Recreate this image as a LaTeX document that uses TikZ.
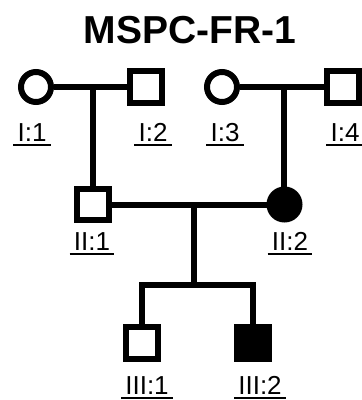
\documentclass[tikz,border=0pt]{standalone}
\usepackage{fontspec}
\setmainfont{Liberation Sans}
\begin{document}
\begin{tikzpicture}[x=1pt,y=-1pt,
  lw/.style={line width=6pt},
  male/.style={draw,rectangle,line width=6pt,minimum size=31.5pt,inner sep=0pt,fill=white},
  female/.style={draw,circle,line width=6pt,minimum size=30pt,inner sep=0pt,fill=white},
  aff/.style={fill=black},
  lab/.style={anchor=base,inner xsep=4pt,inner ysep=0pt,font=\fontsize{26}{26}\selectfont},
  ul/.style={line width=2pt},
  conn/.style={line width=6pt,line join=miter}]
\useasboundingbox (0,0) rectangle (362,400);
\node[anchor=base,font=\fontsize{39}{39}\selectfont\bfseries] (title) at (190,43) {MSPC-FR-1};
% generation I
\node[female] (i1) at (36,87) {};
\node[male] (i2) at (146,87) {};
\node[female] (i3) at (222,87) {};
\node[male] (i4) at (343,87) {};
% generation II
\node[male] (ii1) at (93,204.5) {};
\node[female,aff] (ii2) at (284.5,204.5) {};
% generation III
\node[male] (iii1) at (142,343) {};
\node[male,aff] (iii2) at (253,343) {};
% coordinates
\coordinate (m1) at (92.5,87);
\coordinate (m2) at (284,87);
\coordinate (m3) at (193.5,204.5);
\coordinate (s) at (193.5,284.5);
% connectors
\draw[conn] (i1) -- (i2);
\draw[conn] (i3) -- (i4);
\draw[conn] (m1) -- (m1 |- ii1.north);
\draw[conn] (m2) -- (m2 |- ii2.north);
\draw[conn] (ii1) -- (ii2);
\draw[conn] (m3) -- (s);
\draw[conn] (iii1.north) -- (iii1 |- s) -- (iii2 |- s) -- (iii2.north);
% labels
\node[lab] (l1) at (32,141) {I:1};
\node[lab] (l2) at (153,141) {I:2};
\node[lab] (l3) at (225,141) {I:3};
\node[lab] (l4) at (345,141) {I:4};
\node[lab] (l5) at (92,250) {II:1};
\node[lab] (l6) at (290,250) {II:2};
\node[lab] (l7) at (147,394) {III:1};
\node[lab] (l8) at (260,394) {III:2};
\foreach \n in {l1,l2,l3,l4,l5,l6,l7,l8}
  \draw[ul] ([yshift=-4pt]\n.base west) -- ([yshift=-4pt]\n.base east);
\end{tikzpicture}
\end{document}
